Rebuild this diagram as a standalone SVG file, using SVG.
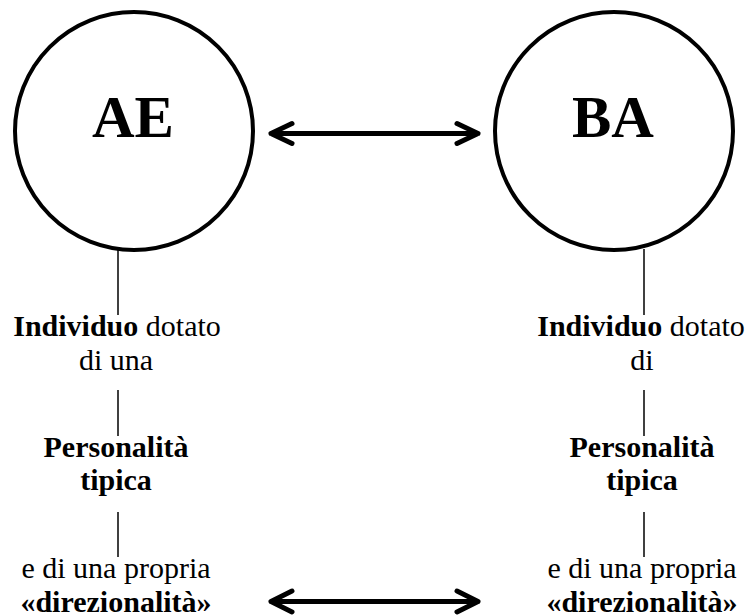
<svg xmlns="http://www.w3.org/2000/svg" width="749" height="615" viewBox="0 0 749 615">
<style>
.bg{fill:#fff}
.circ{fill:#fff;stroke:#000;stroke-width:4}
.big{font-family:"Liberation Serif","Times New Roman",serif;font-weight:bold;font-size:59px;fill:#000;text-anchor:middle}
.t{font-family:"Liberation Serif","Times New Roman",serif;font-size:30px;fill:#000;text-anchor:middle}
.b{font-weight:bold}
.ln{stroke:#000;stroke-width:1.5;fill:none}
.arr{stroke:#000;stroke-width:5;fill:none;stroke-linecap:round;stroke-linejoin:round}
</style>
<rect class="bg" x="0" y="0" width="749" height="615"/>
<g id="node-AE">
<circle class="circ" cx="134" cy="131" r="119"/>
<text class="big" x="133" y="137">AE</text>
</g>
<g id="node-BA">
<circle class="circ" cx="614" cy="131" r="119"/>
<text class="big" x="613" y="137">BA</text>
</g>
<g id="text-left">
<text class="t" x="117" y="336"><tspan class="b">Individuo</tspan> dotato</text>
<text class="t" x="116" y="370">di una</text>
<text class="t b" x="116" y="457">Personalità</text>
<text class="t b" x="116" y="490">tipica</text>
<text class="t" x="116" y="578">e di una propria</text>
<text class="t b" x="116" y="612">«direzionalità»</text>
</g>
<g id="text-right">
<text class="t" x="641" y="336"><tspan class="b">Individuo</tspan> dotato</text>
<text class="t" x="642" y="370">di</text>
<text class="t b" x="642" y="457">Personalità</text>
<text class="t b" x="642" y="490">tipica</text>
<text class="t" x="642" y="578">e di una propria</text>
<text class="t b" x="642" y="612">«direzionalità»</text>
</g>
<g id="connectors">
<line class="ln" x1="118" y1="249" x2="118" y2="315"/>
<line class="ln" x1="118" y1="390" x2="118" y2="436"/>
<line class="ln" x1="118" y1="512" x2="118" y2="557"/>
<line class="ln" x1="644" y1="249" x2="644" y2="315"/>
<line class="ln" x1="644" y1="390" x2="644" y2="436"/>
<line class="ln" x1="644" y1="512" x2="644" y2="557"/>
<path class="arr" d="M271 133.5H478M292 123.5L271 133.5L292 143.5M457 123.5L478 133.5L457 143.5"/>
<path class="arr" d="M271 601.5H478M292 591L271 601.5L292 612M457 591L478 601.5L457 612"/>
</g>
</svg>
